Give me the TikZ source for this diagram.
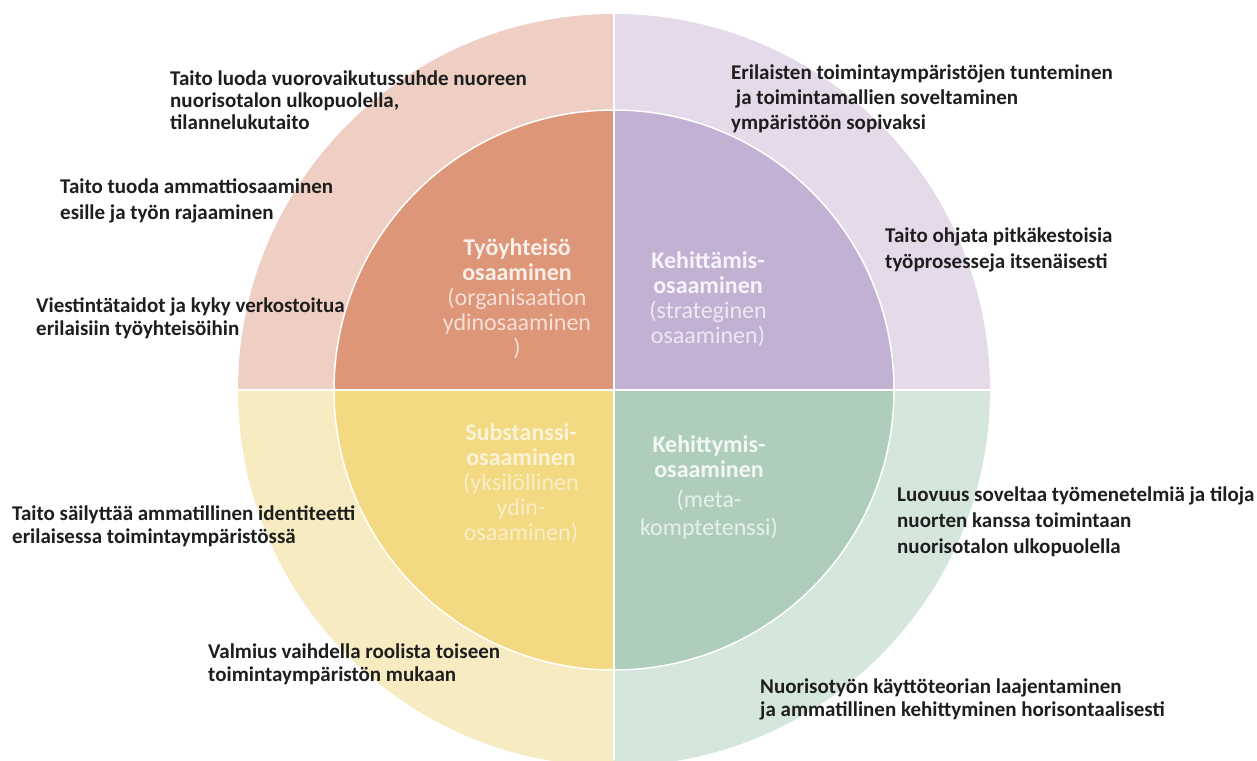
\documentclass[tikz,border=0pt]{standalone}
\usepackage{fontspec}
\setmainfont{Carlito}
\definecolor{oTL}{HTML}{EFCFC3}
\definecolor{iTL}{HTML}{DD9677}
\definecolor{oTR}{HTML}{E4DAEA}
\definecolor{iTR}{HTML}{C3B1D4}
\definecolor{oBL}{HTML}{F7EBC2}
\definecolor{iBL}{HTML}{F2D982}
\definecolor{oBR}{HTML}{D5E6DC}
\definecolor{iBR}{HTML}{AECDBB}
\definecolor{txt}{HTML}{1E1E1E}
\tikzset{
  outerlbl/.style={anchor=base west, align=left, inner sep=0pt, text=txt,
    font=\bfseries\fontsize{21}{23}\selectfont},
  innerlbl/.style={anchor=base, align=center, inner sep=0pt,
    font=\fontsize{24}{25}\selectfont},
}
\begin{document}
\begin{tikzpicture}[x=1pt,y=-1pt]
\useasboundingbox (0,0) rectangle (1257,760);
\fill[white] (0,0) rectangle (1257,760);
\clip (0,0) rectangle (1257,760);
\coordinate (c) at (614,390);
% quadrants
\begin{scope}
  \clip (0,0) rectangle (614,390);
  \fill[oTL] (c) circle[radius=376pt];
  \fill[iTL] (c) circle[radius=280pt];
\end{scope}
\begin{scope}
  \clip (614,0) rectangle (1257,390);
  \fill[oTR] (c) circle[radius=376pt];
  \fill[iTR] (c) circle[radius=280pt];
\end{scope}
\begin{scope}
  \clip (0,390) rectangle (614,760);
  \fill[oBL] (c) circle[radius=376pt];
  \fill[iBL] (c) circle[radius=280pt];
\end{scope}
\begin{scope}
  \clip (614,390) rectangle (1257,760);
  \fill[oBR] (c) circle[radius=376pt];
  \fill[iBR] (c) circle[radius=280pt];
\end{scope}
\draw[white, line width=1.5pt] (c) circle[radius=280pt];
\draw[white, line width=2pt] (614,0) -- (614,760);
\draw[white, line width=2pt] (230,390) -- (1000,390);
% inner labels (anchor = baseline of last line)
\node[innerlbl] (tl) at (517,355) {\textcolor{white!85!iTL}{\bfseries Työyhteisö}\\
  \textcolor{white!85!iTL}{\bfseries osaaminen}\\
  \textcolor{white!70!iTL}{(organisaation}\\
  \textcolor{white!70!iTL}{ydinosaaminen}\\
  \textcolor{white!70!iTL}{)}};
\node[innerlbl] (tr) at (708,343) {\textcolor{white!85!iTR}{\bfseries Kehittämis-}\\
  \textcolor{white!85!iTR}{\bfseries osaaminen}\\
  \textcolor{white!70!iTR}{(strateginen}\\
  \textcolor{white!70!iTR}{osaaminen)}};
\node[innerlbl] (bl) at (521,540) {\textcolor{white!68!iBL}{\bfseries Substanssi-}\\
  \textcolor{white!68!iBL}{\bfseries osaaminen}\\
  \textcolor{white!55!iBL}{(yksilöllinen}\\
  \textcolor{white!55!iBL}{ydin-}\\
  \textcolor{white!55!iBL}{osaaminen)}};
\node[innerlbl] (br) at (709,535) {\textcolor{white!85!iBR}{\bfseries Kehittymis-}\\
  \textcolor{white!85!iBR}{\bfseries osaaminen}\\[5pt]
  \textcolor{white!70!iBR}{(meta-}\\[3pt]
  \textcolor{white!70!iBR}{komptetenssi)}};
% outer labels (anchor = baseline of last line)
\node[outerlbl, font=\bfseries\fontsize{21}{22}\selectfont] (a) at (170,129)
  {Taito luoda vuorovaikutussuhde nuoreen\\nuorisotalon ulkopuolella,\\tilannelukutaito};
\node[outerlbl, font=\bfseries\fontsize{21}{26}\selectfont] (b) at (60,219)
  {Taito tuoda ammattiosaaminen\\esille ja työn rajaaminen};
\node[outerlbl] (cc) at (36,335)
  {Viestintätaidot ja kyky verkostoitua\\erilaisiin työyhteisöihin};
\node[outerlbl, font=\bfseries\fontsize{21}{25}\selectfont] (d) at (731,129)
  {Erilaisten toimintaympäristöjen tunteminen\\\ ja toimintamallien soveltaminen\\ympäristöön sopivaksi};
\node[outerlbl, font=\bfseries\fontsize{21}{26}\selectfont] (e) at (885,268)
  {Taito ohjata pitkäkestoisia\\työprosesseja itsenäisesti};
\node[outerlbl, font=\bfseries\fontsize{21}{26}\selectfont] (f) at (897,553)
  {Luovuus soveltaa työmenetelmiä ja tiloja\\nuorten kanssa toimintaan\\nuorisotalon ulkopuolella};
\node[outerlbl] (g) at (760,716)
  {Nuorisotyön käyttöteorian laajentaminen\\ja ammatillinen kehittyminen horisontaalisesti};
\node[outerlbl] (h) at (12,543)
  {Taito säilyttää ammatillinen identiteetti\\erilaisessa toimintaympäristössä};
\node[outerlbl] (i) at (208,681)
  {Valmius vaihdella roolista toiseen\\toimintaympäristön mukaan};
\end{tikzpicture}
\end{document}
